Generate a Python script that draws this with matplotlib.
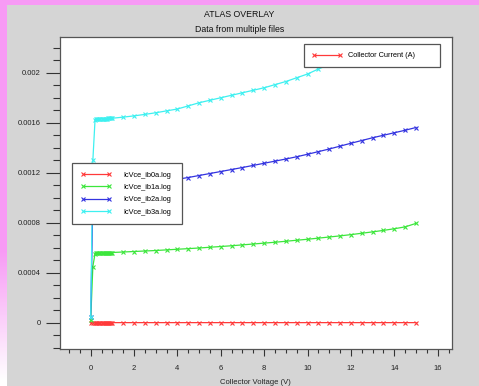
import numpy as np
import matplotlib
matplotlib.use("Agg")
import matplotlib.pyplot as plt
from matplotlib.lines import Line2D
from matplotlib.ticker import FixedLocator, MultipleLocator

plt.rcParams['font.family'] = ['Liberation Sans', 'DejaVu Sans']

# ---------------- data ----------------
vce = [0.0, 0.1, 0.2, 0.25, 0.3, 0.35, 0.4, 0.45, 0.5, 0.55, 0.6, 0.65, 0.7, 0.75,
       0.8, 0.85, 0.9, 0.95, 1.0, 1.5, 2.0, 2.5, 3.0, 3.5, 4.0, 4.5, 5.0, 5.5, 6.0,
       6.5, 7.0, 7.5, 8.0, 8.5, 9.0, 9.5, 10.0, 10.5, 11.0, 11.5, 12.0, 12.5, 13.0,
       13.5, 14.0, 14.5, 15.0]

ic_ib0 = [0.0, 1e-6, 1e-6, 1e-6, 1e-6, 1e-6, 1e-6, 1e-6, 1e-6, 1e-6, 1e-6, 1e-6,
          1e-6, 1e-6, 1e-6, 1e-6, 1e-6, 1e-6, 1e-6, 1e-6, 1e-6, 1e-6, 1e-6, 1e-6,
          1e-6, 1e-6, 1e-6, 1e-6, 1e-6, 1e-6, 1e-6, 1e-6, 1e-6, 1e-6, 1e-6, 1e-6,
          1e-6, 1e-6, 1e-6, 1e-6, 1e-6, 1e-6, 1e-6, 1e-6, 1e-6, 1e-6, 1e-6]

ic_ib1 = [0.00002, 0.00045, 0.000552, 0.000555, 0.000556, 0.000557, 0.000557,
          0.000558, 0.000558, 0.000559, 0.000559, 0.00056, 0.00056, 0.00056,
          0.000561, 0.000561, 0.000561, 0.000562, 0.000562, 0.000566, 0.00057,
          0.000574, 0.000578, 0.000583, 0.000588, 0.000593, 0.000598, 0.000604,
          0.00061, 0.000616, 0.000623, 0.00063, 0.000637, 0.000644, 0.000652,
          0.00066, 0.000668, 0.000677, 0.000686, 0.000695, 0.000705, 0.000716,
          0.000727, 0.000739, 0.000752, 0.000767, 0.000795]

ic_ib2 = [0.000045, 0.00098, 0.00108, 0.001085, 0.001088, 0.00109, 0.001092,
          0.001093, 0.001094, 0.001095, 0.001096, 0.001097, 0.001097, 0.001098,
          0.001098, 0.001099, 0.001099, 0.0011, 0.0011, 0.001105, 0.00111,
          0.001118, 0.001126, 0.001136, 0.001148, 0.001162, 0.001178, 0.001194,
          0.00121, 0.001226, 0.001242, 0.001259, 0.001276, 0.001293, 0.00131,
          0.001328, 0.001348, 0.001369, 0.00139, 0.001413, 0.001436, 0.001458,
          0.00148, 0.0015, 0.00152, 0.00154, 0.001562]

ic_ib3 = [0.000045, 0.0013, 0.00162, 0.00163, 0.00163, 0.001631, 0.001631,
          0.001632, 0.001632, 0.001633, 0.001633, 0.001634, 0.001634, 0.001634,
          0.001635, 0.001635, 0.001635, 0.001636, 0.001636, 0.001645, 0.001655,
          0.001667, 0.00168, 0.001695, 0.00171, 0.001735, 0.00176, 0.00178,
          0.0018, 0.00182, 0.00184, 0.00186, 0.00188, 0.001905, 0.00193,
          0.00196, 0.00199, 0.00203, 0.002065, 0.0021, 0.00213, 0.002152,
          0.002172, 0.002188, 0.0022, 0.002208, 0.002214]

series_labels = ["IcVce_ib0a.log", "IcVce_ib1a.log", "IcVce_ib2a.log", "IcVce_ib3a.log"]
series_colors = ["#ff3a3a", "#3ce63c", "#3434e0", "#3ef0f0"]

yticks = [0.0, 0.0004, 0.0008, 0.0012, 0.0016, 0.002]
ytick_labels = ["0", "0.0004", "0.0008", "0.0012", "0.0016", "0.002"]
xticks = [0, 2, 4, 6, 8, 10, 12, 14, 16]

title = "ATLAS OVERLAY"
subtitle = "Data from multiple files"
xlabel = "Collector Voltage (V)"
quantity_label = "Collector Current (A)"

# ---------------- figure ----------------
W, H = 479, 386
fig = plt.figure(figsize=(W / 100, H / 100), dpi=100, facecolor="#d5d5d5")

# pink frame decoration (top strip + left strip fading to white)
pink = np.array([247, 154, 245]) / 255.0
bg = fig.add_axes([0, 0, 1, 1], zorder=-10)
bg.set_axis_off()
img = np.ones((H, W, 3)) * (213 / 255.0)
rows = np.arange(H)
fade = np.clip((rows - 250) / 130.0, 0, 1)[:, None]
left_col = pink[None, :] * (1 - fade) + np.ones(3)[None, :] * fade
for c in range(7):
    img[:, c, :] = left_col
img[:5, :, :] = pink
bg.imshow(img, aspect="auto", extent=(0, W, H, 0), interpolation="nearest")
bg.set_xlim(0, W)
bg.set_ylim(H, 0)

ax = fig.add_axes([59.5 / W, 1 - 349 / H, 392.5 / W, 312 / H])
ax.set_facecolor("white")

all_series = [ic_ib0, ic_ib1, ic_ib2, ic_ib3]
handles = []
for vals, lab, col in zip(all_series, series_labels, series_colors):
    h, = ax.plot(vce, vals, color=col, lw=0.9, marker="x", ms=3.0, mew=0.8, label=lab)
    handles.append(h)

ax.set_xlim(-1.438, 16.66)
ax.set_ylim(-0.00021, 0.002286)

ax.xaxis.set_major_locator(FixedLocator(xticks))
ax.xaxis.set_minor_locator(MultipleLocator(0.5))
ax.yaxis.set_major_locator(FixedLocator(yticks))
ax.set_yticklabels(ytick_labels)
ax.yaxis.set_minor_locator(MultipleLocator(0.0001))

ax.tick_params(axis="y", which="major", direction="out", length=10, width=0.8,
               color="#333333", labelsize=5.5, pad=3.6, labelcolor="#222222")
ax.tick_params(axis="y", which="minor", direction="out", length=5, width=0.8,
               color="#333333")
ax.tick_params(axis="x", which="major", direction="out", length=4.7, width=0.8,
               color="#333333", labelsize=5.5, pad=7.0, labelcolor="#222222")
ax.tick_params(axis="x", which="minor", direction="out", length=2.9, width=0.8,
               color="#333333")
for s in ax.spines.values():
    s.set_color("#555555")
    s.set_linewidth(0.9)

# legends
fs = 5.3
leg1 = ax.legend(handles=handles, loc="upper left",
                 bbox_to_anchor=(72 / W, 1 - 163 / H, 110 / W, 0.0),
                 bbox_transform=fig.transFigure, mode="expand",
                 fontsize=fs, numpoints=2, handlelength=4.08, handletextpad=1.67,
                 borderpad=1.18, labelspacing=0.69, borderaxespad=0,
                 frameon=True, fancybox=False, edgecolor="#555555",
                 facecolor="white", framealpha=1)
leg1.get_frame().set_linewidth(0.9)
ax.add_artist(leg1)

qh = Line2D([0], [0], color=series_colors[0], lw=0.9, marker="x", ms=3.0, mew=0.8)
leg2 = ax.legend(handles=[qh], labels=[quantity_label], loc="upper left",
                 bbox_to_anchor=(304 / W, 1 - 44 / H, 136 / W, 0.0),
                 bbox_transform=fig.transFigure, mode="expand",
                 fontsize=fs, numpoints=2, handlelength=4.08, handletextpad=0.85,
                 borderpad=1.11, borderaxespad=0,
                 frameon=True, fancybox=False, edgecolor="#555555",
                 facecolor="white", framealpha=1)
leg2.get_frame().set_linewidth(0.9)

fig.text(0.5, 1 - 14.5 / H, title, ha="center", va="center", fontsize=6.3, color="#111111")
fig.text(0.5, 1 - 29.5 / H, subtitle, ha="center", va="center", fontsize=6.3, color="#111111")
fig.text(255.7 / W, 1 - 378.5 / H, xlabel, ha="center", va="top", fontsize=5.5, color="#222222")

fig.savefig("out.png", dpi=100, facecolor=fig.get_facecolor())
